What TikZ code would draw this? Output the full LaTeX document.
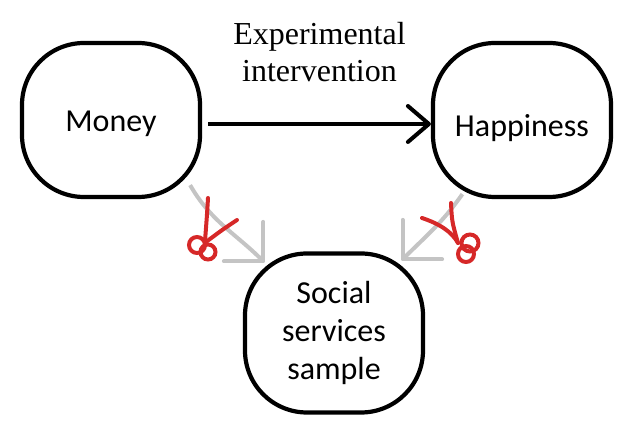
\documentclass[tikz,border=0pt]{standalone}
\usepackage{fontspec}
\setmainfont{Liberation Serif}
\newfontfamily\handfont{Carlito}
\usetikzlibrary{positioning,arrows.meta}
\definecolor{cutred}{RGB}{214,40,40}
\definecolor{pathgray}{RGB}{196,196,196}

\begin{document}
\begin{tikzpicture}[node distance={205.5pt},
    main/.style = {draw, line width=2.1pt, rounded corners=31pt, minimum width=89pt, minimum height=77pt, inner sep=0pt, on grid, align=center, font=\handfont\fontsize{16}{19}\selectfont},
    cause/.style = {-{Straight Barb[round,length=10.5pt,width=18pt]}, line width=2pt},
    blocked/.style = {-{Straight Barb[round,length=14pt,width=28pt]}, line width=2pt, pathgray},
    cut/.style = {cutred, line width=2pt, line cap=round}]
    \useasboundingbox (0,0) rectangle (317pt,-219pt);
    \node[main, text height=12pt, text depth=0pt] (m) at (55.5pt,-60pt) {Money};
    \node[main, text height=17pt, text depth=0pt] (h) [right=of m] {Happiness};
    \node[main, minimum height=79.5pt] (s) [below right=106.5pt and 111.5pt of m] {Social\\services\\sample};
    \draw[cause] ([xshift=3pt,yshift=-2pt]m.east) -- node[above=20pt, inner sep=0pt, align=center, font=\fontsize{16}{18.5}\selectfont] (x) {Experimental\\intervention} ([yshift=-2pt]h.west);
    \draw[blocked] ([xshift=-6pt,yshift=7pt]m.south east) to[out=-60,in=135] ([xshift=11pt,yshift=-5.75pt]s.north west);
    \draw[blocked] ([xshift=15.75pt,yshift=2.5pt]h.south west) to[out=235,in=45] ([xshift=-12pt,yshift=-4.75pt]s.north east);
    \begin{scope}[x=0.5pt, y=-0.5pt]
        % cut on the left
        \draw[cut] (208,198) .. controls (207,215) .. (205,241);
        \draw[cut] (237,220) .. controls (222,230) .. (206,242);
        \draw[cut] (197,245) circle[radius=8];
        \draw[cut] (208,252) circle[radius=7.5];
        % cut on the right
        \draw[cut] (422,218) .. controls (440,224) and (452,232) .. (458,243);
        \draw[cut] (451,203) .. controls (452,222) .. (458,243);
        \draw[cut] (470,243) circle[radius=8.5];
        \draw[cut] (466,254) circle[radius=8];
    \end{scope}
\end{tikzpicture}
\end{document}
